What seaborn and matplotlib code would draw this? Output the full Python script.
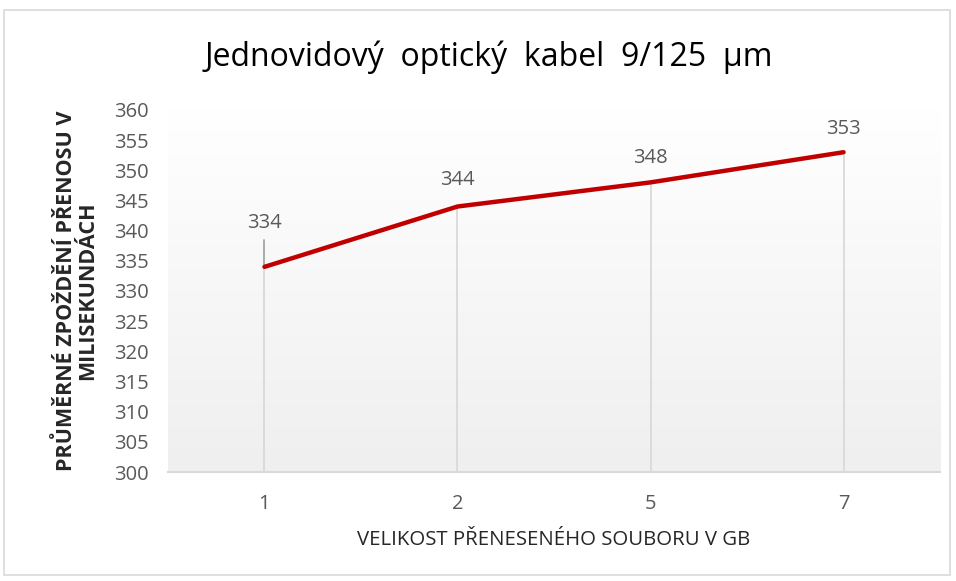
import numpy as np
import pandas as pd
import matplotlib
matplotlib.use("Agg")
import matplotlib.pyplot as plt
from matplotlib.patches import Rectangle
import seaborn as sns

# chart data
velikost = ["1", "2", "5", "7"]
zpozdeni = [334, 344, 348, 353]
y_ticks = list(range(300, 361, 5))

df = pd.DataFrame({"velikost": velikost, "zpozdeni": zpozdeni})

sns.set_style("white")
plt.rcParams["font.family"] = ["Open Sans", "DejaVu Sans"]

fig = plt.figure(figsize=(9.56, 5.81), dpi=100)
ax = fig.add_axes([0.1757, 0.1876, 0.8076, 0.6231])

# light gradient background like the Excel plot area
grad = np.linspace(0, 1, 256).reshape(-1, 1)
ax.imshow(grad, extent=[-0.5, 3.5, 300, 360], aspect="auto",
          cmap=matplotlib.colors.LinearSegmentedColormap.from_list("g", ["#efefef", "#ffffff"]),
          origin="lower", zorder=0)

x = np.arange(len(velikost))
# drop lines
ax.vlines(x, 300, zpozdeni, color="#d9d9d9", lw=1.3, zorder=1)

sns.lineplot(x=x, y="zpozdeni", data=df, color="#c00000", lw=3.2, ax=ax, zorder=3)

offsets = [7.2, 4.4, 4.0, 3.8]
for xi, v, off in zip(x, zpozdeni, offsets):
    ax.text(xi, v + off, str(v), ha="center", va="center", fontsize=14.5, color="#595959")
# leader line for first label
ax.plot([x[0], x[0]], [zpozdeni[0] + 0.3, zpozdeni[0] + 4.4], color="#a6a6a6", lw=1.3, zorder=2)

ax.set_xlim(-0.5, 3.5)
ax.set_ylim(300, 360)
ax.set_xticks(x)
ax.set_xticklabels(velikost)
ax.set_yticks(y_ticks)
ax.tick_params(axis="both", length=0, labelsize=14.5, labelcolor="#595959")
ax.tick_params(axis="x", pad=16)
ax.tick_params(axis="y", pad=14)

for s in ["top", "right", "left"]:
    ax.spines[s].set_visible(False)
ax.spines["bottom"].set_color("#d9d9d9")
ax.spines["bottom"].set_linewidth(1.5)

ax.set_xlabel("VELIKOST PŘENESENÉHO SOUBORU V GB", fontsize=14.7, color="#262626", labelpad=11)
ax.set_ylabel("PRŮMĚRNÉ ZPOŽDĚNÍ PŘENOSU V\nMILISEKUNDÁCH", fontsize=15.5, fontweight="bold",
              color="#262626", labelpad=11, linespacing=1.05)

fig.text(0.511, 0.902, "Jednovidový  optický  kabel  9/125  µm", ha="center", va="center",
         fontsize=23, color="#000000")

# outer chart border
fig.patches.append(Rectangle((0.004, 0.01), 0.99, 0.973, transform=fig.transFigure,
                             fill=False, edgecolor="#d9d9d9", lw=1.2))

fig.savefig("out.png", dpi=100)
